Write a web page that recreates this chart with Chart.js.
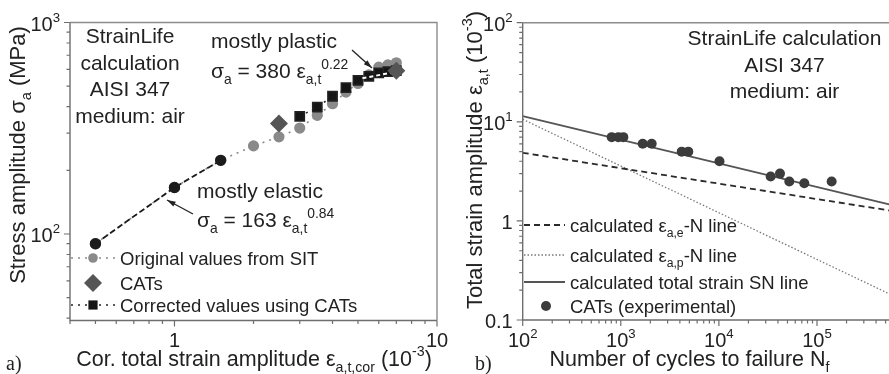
<!DOCTYPE html>
<html>
<head>
<meta charset="utf-8">
<script src="https://cdn.jsdelivr.net/npm/chart.js@4.4.1/dist/chart.umd.min.js"></script>
<style>
  html, body { margin: 0; padding: 0; background: #fff; overflow: hidden; width: 889px; height: 374px; }
  .wrap { position: absolute; top: 0; height: 374px; }
</style>
</head>
<body>
<div class="wrap" style="left:0;width:450px"><canvas id="chart-a"></canvas></div>
<div class="wrap" style="left:440px;width:500px"><canvas id="chart-b"></canvas></div>
<script>
// panel a) stress amplitude vs corrected strain amplitude
const strainSIT = [0.5, 1.0, 1.5, 2.0, 2.5, 3.0, 3.5, 4.0, 4.5, 5.0, 5.5, 6.0, 6.5, 7.0];
const stressSIT = [90, 166, 223, 261, 288, 317, 364, 413, 469, 515, 565, 615, 630, 645];
const strainElastic = [0.5, 1.0, 1.5];
const stressElastic = [90, 166, 223];
const strainCorrected = [3.0, 3.5, 4.0, 4.5, 5.0, 5.5, 6.0, 6.5, 7.0];
const stressCorrected = [360, 398, 448, 492, 532, 556, 578, 586, 592];
const strainCATs = [2.5, 7.0];
const stressCATs = [333, 592];
const plasticFitStrain = [5.2, 7.0];
const plasticFitStress = [545, 585];
const aTicksX = [[1, "1"], [10, "10"]];
const aTicksY = [[100, "10^{2}"], [1000, "10^{3}"]];

// panel b) strain life
const cyclesExp = [808, 944, 1061, 1672, 2065, 4177, 4876, 10140, 33700, 41950, 52200, 74200, 141000];
const strainExp = [7.0, 7.0, 7.0, 6.0, 6.0, 5.0, 5.0, 4.0, 2.8, 3.0, 2.5, 2.4, 2.5];
const lineCycles = [100, 1000000];
const totalLine = [11.4, 1.27];
const elasticLine = [4.87, 1.16];
const plasticLine = [10.6, 0.138];
const bTicksX = [[100, "10^{2}"], [1000, "10^{3}"], [10000, "10^{4}"], [100000, "10^{5}"]];
const bTicksY = [[0.1, "0.1"], [1, "1"], [10, "10^{1}"], [100, "10^{2}"]];

const FONT = "'Liberation Sans', Arial, sans-serif";
const INK = "#222";

const pts = (xs, ys) => xs.map((x, i) => ({ x: x, y: ys[i] }));

function parts(str) {
    return str.split(/(_\{[^}]*\}|\^\{[^}]*\})/).filter(s => s).map(s => {
        if (s.startsWith("_{")) return [s.slice(2, -1), "sub"];
        if (s.startsWith("^{")) return [s.slice(2, -1), "sup"];
        return [s, ""];
    });
}

function rich(ctx, str, x, y, size, align, color) {
    const ps = parts(str);
    const fontOf = k => (k ? size * 0.66 : size) + "px " + FONT;
    let w = 0;
    ps.forEach(p => { ctx.font = fontOf(p[1]); p.w = ctx.measureText(p[0]).width; w += p.w; });
    let cx = align === "center" ? x - w / 2 : align === "right" ? x - w : x;
    ctx.fillStyle = color || INK;
    ctx.textBaseline = "alphabetic";
    ctx.textAlign = "left";
    ps.forEach(p => {
        ctx.font = fontOf(p[1]);
        const dy = p[1] === "sub" ? size * 0.28 : p[1] === "sup" ? -size * 0.45 : 0;
        ctx.fillText(p[0], cx, y + dy);
        cx += p.w;
    });
}

function richUp(ctx, str, x, y, size) {
    ctx.save();
    ctx.translate(x, y);
    ctx.rotate(-Math.PI / 2);
    rich(ctx, str, 0, 0, size, "center");
    ctx.restore();
}

function arrow(ctx, x1, y1, x2, y2) {
    ctx.save();
    ctx.strokeStyle = "#222";
    ctx.fillStyle = "#222";
    ctx.lineWidth = 1.3;
    ctx.beginPath();
    ctx.moveTo(x1, y1);
    ctx.lineTo(x2, y2);
    ctx.stroke();
    const a = Math.atan2(y2 - y1, x2 - x1);
    ctx.beginPath();
    ctx.moveTo(x2, y2);
    ctx.lineTo(x2 - 9 * Math.cos(a - 0.3), y2 - 9 * Math.sin(a - 0.3));
    ctx.lineTo(x2 - 9 * Math.cos(a + 0.3), y2 - 9 * Math.sin(a + 0.3));
    ctx.closePath();
    ctx.fill();
    ctx.restore();
}

function logValues(min, max) {
    const out = [];
    for (let e = Math.floor(Math.log10(min)); e <= Math.ceil(Math.log10(max)); e++) {
        for (let m = 1; m <= 9; m++) {
            const v = m * Math.pow(10, e);
            if (v >= min * 0.999 && v <= max * 1.001) out.push([v, m === 1]);
        }
    }
    return out;
}

function frameAndTicks(chart, tx, ty, boxRight) {
    const ctx = chart.ctx;
    const { left, right, top, bottom } = chart.chartArea;
    const xs = chart.scales.x, ys = chart.scales.y;
    ctx.save();
    ctx.strokeStyle = "#6e6e6e";
    ctx.lineWidth = 1.4;
    ctx.beginPath();
    ctx.moveTo(left, top); ctx.lineTo(left, bottom); ctx.lineTo(right, bottom);
    ctx.stroke();
    ctx.strokeStyle = "#8c8c8c";
    ctx.beginPath();
    ctx.moveTo(left, top); ctx.lineTo(right, top);
    if (boxRight) ctx.lineTo(right, bottom);
    ctx.stroke();
    ctx.strokeStyle = "#6e6e6e";
    ctx.lineWidth = 1.2;
    ctx.beginPath();
    logValues(xs.min, xs.max).forEach(([v, major]) => {
        const px = xs.getPixelForValue(v);
        ctx.moveTo(px, bottom); ctx.lineTo(px, bottom + (major ? 6 : 3.5));
    });
    logValues(ys.min, ys.max).forEach(([v, major]) => {
        const py = ys.getPixelForValue(v);
        ctx.moveTo(left, py); ctx.lineTo(left - (major ? 6 : 3.5), py);
    });
    ctx.stroke();
    ctx.restore();
    tx.forEach(([v, s]) => rich(ctx, s, xs.getPixelForValue(v), bottom + 26.5, 20, "center"));
    ty.forEach(([v, s]) => rich(ctx, s, left - 10, ys.getPixelForValue(v) + 8, 20, "right"));
}

function legendLine(ctx, x1, x2, y, color, dash, width) {
    ctx.save();
    ctx.strokeStyle = color;
    ctx.lineWidth = width;
    ctx.setLineDash(dash);
    ctx.beginPath();
    ctx.moveTo(x1, y); ctx.lineTo(x2, y);
    ctx.stroke();
    ctx.restore();
}

function marker(ctx, style, x, y, r, color) {
    ctx.save();
    ctx.fillStyle = color;
    Chart.helpers.drawPoint(ctx, { pointStyle: style, radius: r, borderWidth: 0 }, x, y);
    ctx.restore();
}

const decoA = {
    id: "decoA",
    afterDraw(chart) {
        const ctx = chart.ctx;
        frameAndTicks(chart, aTicksX, aTicksY, true);
        richUp(ctx, "Stress amplitude σ_{a} (MPa)", 25, 155, 22);
        rich(ctx, "Cor. total strain amplitude ε_{a,t,cor} (10^{-3})", 254, 366, 21.5, "center");
        ctx.font = "20px 'Liberation Serif', 'Times New Roman', serif";
        ctx.fillStyle = INK;
        ctx.textAlign = "left";
        ctx.fillText("a)", 6, 370);

        ["StrainLife", "calculation", "AISI 347", "medium: air"].forEach((s, i) =>
            rich(ctx, s, 130, 43 + i * 26.7, 21, "center"));

        rich(ctx, "mostly plastic", 211, 48, 21, "left");
        rich(ctx, "σ_{a} = 380 ε_{a,t}^{0.22}", 211, 78, 21, "left");
        arrow(ctx, 352, 50, 372, 68);
        rich(ctx, "mostly elastic", 197, 198, 21, "left");
        rich(ctx, "σ_{a} = 163 ε_{a,t}^{0.84}", 197, 227, 21, "left");
        arrow(ctx, 193, 214, 167, 200);

        legendLine(ctx, 71, 116, 258, "#8a8a8a", [2, 5], 1.6);
        marker(ctx, "circle", 93, 258, 4.8, "#8a8a8a");
        rich(ctx, "Original values from SIT", 120, 265, 18.5, "left");
        marker(ctx, "rectRot", 93, 283, 9, "#555");
        rich(ctx, "CATs", 120, 290, 18.5, "left");
        legendLine(ctx, 71, 116, 305, "#222", [2, 5], 1.6);
        marker(ctx, "rect", 93, 305, 6.5, "#151515");
        rich(ctx, "Corrected values using CATs", 120, 312, 18.5, "left");
    }
};

const decoB = {
    id: "decoB",
    afterDraw(chart) {
        const ctx = chart.ctx;
        frameAndTicks(chart, bTicksX, bTicksY, false);
        richUp(ctx, "Total strain amplitude ε_{a,t} (10^{-3})", 42, 160, 22);
        rich(ctx, "Number of cycles to failure N_{f}", 249.5, 366, 21.5, "center");
        ctx.font = "20px 'Liberation Serif', 'Times New Roman', serif";
        ctx.fillStyle = INK;
        ctx.textAlign = "left";
        ctx.fillText("b)", 35, 370);

        ["StrainLife calculation", "AISI 347", "medium: air"].forEach((s, i) =>
            rich(ctx, s, 344.5, 45 + i * 26.5, 21, "center"));

        legendLine(ctx, 84, 125, 225, "#2a2a2a", [6, 4], 1.8);
        rich(ctx, "calculated ε_{a,e}-N line", 130, 232, 18.5, "left");
        legendLine(ctx, 84, 125, 255, "#777", [1.5, 2], 1.3);
        rich(ctx, "calculated ε_{a,p}-N line", 130, 262, 18.5, "left");
        legendLine(ctx, 84, 125, 282, "#555", [], 1.8);
        rich(ctx, "calculated total strain SN line", 130, 289, 18.5, "left");
        marker(ctx, "circle", 106, 306, 5, "#3c3c3c");
        rich(ctx, "CATs (experimental)", 130, 313, 18.5, "left");
    }
};

const baseOptions = (xmin, xmax, ymin, ymax, pad) => ({
    responsive: true,
    maintainAspectRatio: false,
    animation: false,
    layout: { padding: pad },
    elements: { point: { borderWidth: 0 }, line: { tension: 0 } },
    plugins: { legend: { display: false }, tooltip: { enabled: false } },
    scales: {
        x: { type: "logarithmic", min: xmin, max: xmax, display: false },
        y: { type: "logarithmic", min: ymin, max: ymax, display: false },
    },
});

new Chart(document.getElementById("chart-a"), {
    type: "scatter",
    data: {
        datasets: [
            {
                label: "Original values from SIT",
                data: pts(strainSIT, stressSIT),
                showLine: true, borderColor: "#8a8a8a", borderDash: [2, 5], borderWidth: 1.6,
                pointBackgroundColor: "#8a8a8a", pointRadius: 4.8, order: 5,
            },
            {
                label: "Corrected values using CATs",
                data: pts(strainCorrected, stressCorrected),
                showLine: true, borderColor: "#222", borderDash: [2, 5], borderWidth: 1.6,
                pointStyle: "rect", pointBackgroundColor: "#151515", pointRadius: 6.5, order: 4,
            },
            {
                label: "mostly elastic",
                data: pts(strainElastic, stressElastic),
                showLine: true, borderColor: "#1c1c1c", borderDash: [6, 3], borderWidth: 1.8,
                pointBackgroundColor: "#1c1c1c", pointRadius: 4.8, order: 3,
            },
            {
                label: "mostly plastic",
                data: pts(plasticFitStrain, plasticFitStress),
                showLine: true, borderColor: "#fff", borderDash: [4, 3], borderWidth: 2,
                pointRadius: 0, order: 2,
            },
            {
                label: "CATs",
                data: pts(strainCATs, stressCATs),
                pointStyle: "rectRot", pointBackgroundColor: "#555", pointRadius: 9, order: 1,
            },
        ],
    },
    options: baseOptions(0.4, 10, 39, 1000, { left: 70, right: 13, top: 22.5, bottom: 53.5 }),
    plugins: [decoA],
});

new Chart(document.getElementById("chart-b"), {
    type: "scatter",
    data: {
        datasets: [
            {
                label: "CATs (experimental)",
                data: pts(cyclesExp, strainExp),
                pointBackgroundColor: "#3c3c3c", pointRadius: 5, order: 1,
            },
            {
                label: "calculated total strain SN line",
                data: pts(lineCycles, totalLine),
                showLine: true, borderColor: "#555", borderWidth: 1.8, pointRadius: 0, order: 2,
            },
            {
                label: "calculated elastic line",
                data: pts(lineCycles, elasticLine),
                showLine: true, borderColor: "#2a2a2a", borderDash: [6, 4], borderWidth: 1.8,
                pointRadius: 0, order: 3,
            },
            {
                label: "calculated plastic line",
                data: pts(lineCycles, plasticLine),
                showLine: true, borderColor: "#777", borderDash: [1.5, 2], borderWidth: 1.3,
                pointRadius: 0, order: 4,
            },
        ],
    },
    options: baseOptions(100, 1000000, 0.1, 100, { left: 82.7, right: 24.9, top: 22.7, bottom: 54 }),
    plugins: [decoB],
});
</script>
</body>
</html>
